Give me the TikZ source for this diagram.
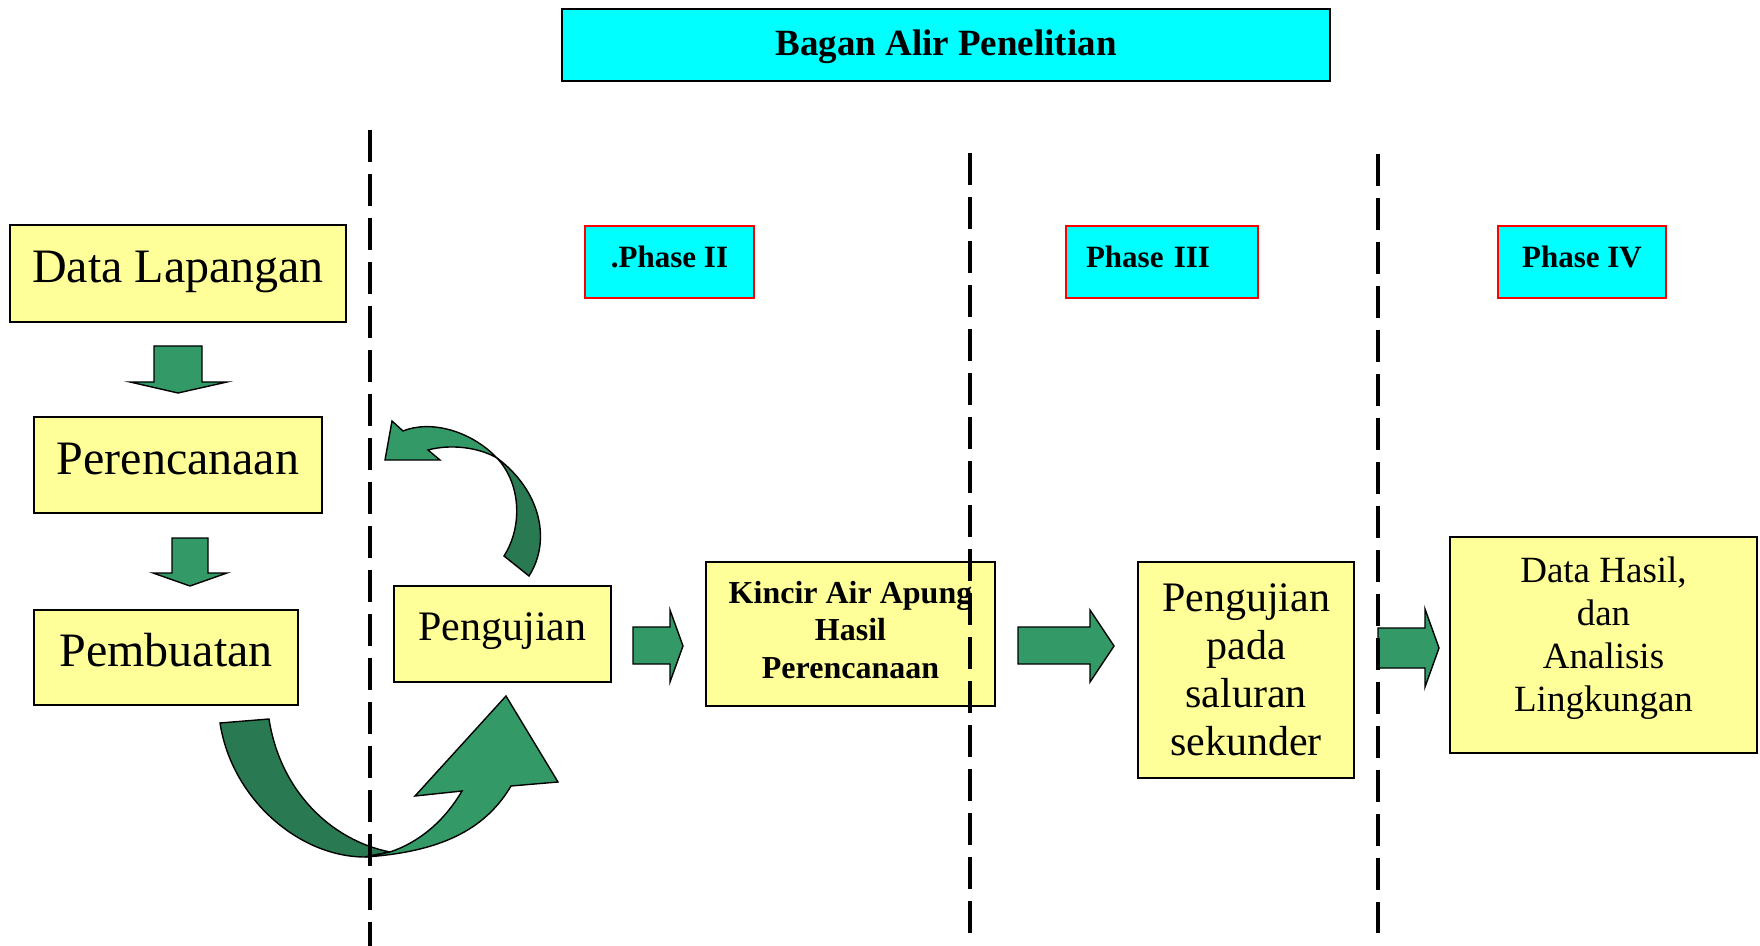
\documentclass[tikz,border=0pt]{standalone}
\usepackage{fontspec}
\setmainfont{Liberation Serif}
\usetikzlibrary{positioning}
\definecolor{boxyellow}{HTML}{FFFF99}
\definecolor{phasecyan}{HTML}{00FFFF}
\definecolor{arrowgreen}{HTML}{339966}
\definecolor{arrowdark}{HTML}{297A52}

\begin{document}
\begin{tikzpicture}[
  x=0.5pt, y=-0.5pt,
  ybox/.style={draw, line width=1pt, fill=boxyellow, align=center, inner sep=0pt},
  bigtext/.style={font=\fontsize{24}{28}\selectfont, text height=16pt, text depth=7pt},
  phase/.style={draw=red, line width=1pt, fill=phasecyan, inner sep=0pt, minimum height=36pt,
    text depth=5pt, font=\fontsize{15.5}{18}\selectfont\bfseries},
  blk/.style={draw, line width=0.7pt, fill=arrowgreen, line join=miter},
  blkdark/.style={blk, fill=arrowdark},
  divider/.style={line width=2pt, dash pattern=on 16pt off 6pt}]
\useasboundingbox (0,0) rectangle (1760,946);

% title and phases
\node[draw, line width=1pt, fill=phasecyan, minimum width=384pt, minimum height=36pt, inner sep=0pt,
  text height=14.6pt, font=\fontsize{18.5}{22}\selectfont\bfseries] (title) at (946,45) {Bagan Alir Penelitian};
\node[phase, minimum width=84.5pt] (ph2) at (669.5,262) {.Phase II};
\node[phase, minimum width=96pt, text width=76pt, align=left] (ph3) at (1162,262) {Phase III};
\node[phase, minimum width=84pt] (ph4) at (1582,262) {Phase IV};

% phase I column
\node[ybox, bigtext, minimum width=168pt, minimum height=48.5pt] (datlap) at (178,273.5) {Data Lapangan};
\node[ybox, bigtext, minimum width=144pt, minimum height=48pt] (renc) at (178,465) {Perencanaan};
\node[ybox, bigtext, minimum width=132pt, minimum height=47.5pt] (buat) at (166,657.5) {Pembuatan};

% later phases
\node[ybox, minimum width=108.5pt, minimum height=48pt, text depth=7.6pt, font=\fontsize{21}{24}\selectfont] (uji) at (502.5,634) {Pengujian};
\node[ybox, minimum width=144.5pt, minimum height=72pt, text depth=4.5pt, font=\fontsize{16}{18.75}\selectfont\bfseries] (kincir) at (850.5,634) {Kincir Air Apung\\Hasil\\Perencanaan};
\node[ybox, minimum width=108pt, minimum height=108pt, font=\fontsize{21}{24}\selectfont] (ujisal) at (1246,670) {Pengujian\\pada\\saluran\\sekunder};
\node[ybox, minimum width=153.5pt, minimum height=108pt, text depth=11pt, font=\fontsize{18.5}{21.5}\selectfont] (hasil) at (1603.5,645) {Data Hasil,\\dan\\Analisis\\Lingkungan};

% block arrows
\draw[blk] (154,346) -- (202,346) -- (202,382) -- (227,382) -- (178,393) -- (130,382) -- (154,382) -- cycle;
\draw[blk] (172,538) -- (208,538) -- (208,573) -- (227,573) -- (190,586) -- (153,573) -- (172,573) -- cycle;
\draw[blk] (633,627) -- (670,627) -- (670,610) -- (683,646) -- (670,682) -- (670,664) -- (633,664) -- cycle;
\draw[blk] (1018,627) -- (1090,627) -- (1090,610) -- (1114,646) -- (1090,682) -- (1090,664) -- (1018,664) -- cycle;
\draw[blk] (1378,628) -- (1425,628) -- (1425,609) -- (1439,648) -- (1425,687) -- (1425,668) -- (1378,668) -- cycle;

% curved arrow Pembuatan -> Pengujian
\draw[blkdark] (220,723) -- (269,719) .. controls (280,790) and (330,840) .. (390,852)
  -- (365,857) .. controls (300,857) and (232,800) .. (220,723) -- cycle;
\draw[blk] (365,857) .. controls (440,852) and (485,830) .. (511,786) -- (558,782) -- (506,696)
  -- (415,796) -- (462,791) .. controls (445,820) and (420,842) .. (390,852) -- cycle;

% curved arrow back from Pengujian
\draw[blkdark] (504,556) -- (529,576) .. controls (552,540) and (540,490) .. (497,458)
  .. controls (522,485) and (522,528) .. (504,556) -- cycle;
\draw[blk] (497,458) .. controls (470,430) and (430,420) .. (403,431) -- (392,421) -- (385,460)
  -- (440,460) -- (428,450) .. controls (450,444) and (478,447) .. (497,458) -- cycle;

% phase dividers
\draw[divider] (370,130) -- (370,946);
\draw[divider] (970,153) -- (970,933);
\draw[divider] (1378,154) -- (1378,933);
\end{tikzpicture}
\end{document}
